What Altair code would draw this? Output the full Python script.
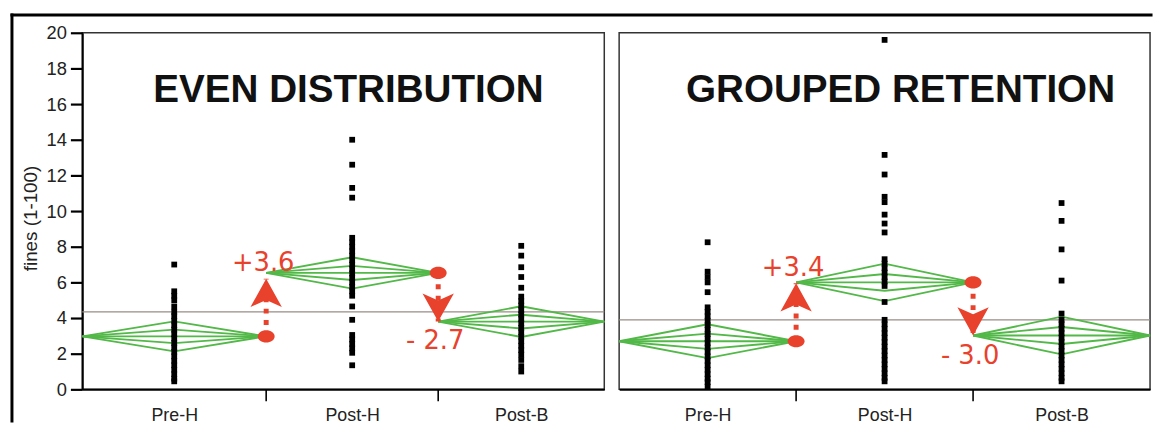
import altair as alt
import pandas as pd

# ---------------- data ----------------
groups = ["Pre-H", "Post-H", "Post-B"]
panel_titles = ["EVEN DISTRIBUTION", "GROUPED RETENTION"]

# JMP draws each group's width proportional to its sample size
even_group_n = [31, 29, 28]
grouped_group_n = [30, 30, 30]

even_pre_h = [7.0, 5.5, 5.25, 5.0, 4.65, 4.35, 4.1, 3.85, 3.6, 3.35, 3.1, 2.85, 2.6,
              2.35, 2.1, 1.85, 1.6, 1.35, 1.1, 0.85, 0.6, 0.45]
even_post_h = [14.0, 12.6, 11.3, 10.75, 8.5, 8.25, 8.0, 7.75, 7.5, 7.25, 7.0, 6.75, 6.5,
               6.25, 6.0, 5.75, 5.5, 5.25, 4.65, 3.9, 3.05, 2.8, 2.55, 2.3, 2.05, 1.35]
even_post_b = [8.05, 7.5, 6.85, 6.3, 5.7, 5.2, 4.95, 4.7, 4.45, 4.2, 3.95, 3.7, 3.45,
               3.2, 2.95, 2.7, 2.45, 2.2, 1.95, 1.65, 1.3, 1.0]

grouped_pre_h = [8.25, 6.6, 6.3, 6.0, 5.45, 4.6, 4.35, 4.1, 3.85, 3.6, 3.35, 3.1, 2.85,
                 2.6, 2.35, 2.1, 1.85, 1.6, 1.35, 1.1, 0.85, 0.6, 0.4, 0.15]
grouped_post_h = [19.6, 13.15, 12.05, 10.8, 10.5, 9.8, 9.3, 8.8, 7.3, 7.05, 6.8, 6.55,
                  6.3, 6.05, 5.8, 4.9, 3.9, 3.65, 3.4, 3.15, 2.9, 2.65, 2.4, 2.15, 1.9,
                  1.65, 1.4, 1.15, 0.9, 0.65, 0.45]
grouped_post_b = [10.45, 9.45, 7.85, 6.1, 4.25, 3.9, 3.65, 3.4, 3.15, 2.9, 2.65, 2.4,
                  2.15, 1.9, 1.65, 1.4, 1.15, 0.9, 0.65, 0.45]

even_means = [2.97, 6.53, 3.8]
even_ci_half = [0.84, 0.88, 0.86]
grouped_means = [2.7, 6.0, 3.02]
grouped_ci_half = [0.95, 1.05, 1.06]
even_grand_mean = 4.35
grouped_grand_mean = 3.9

even_change_labels = ["+3.6", "- 2.7"]
grouped_change_labels = ["+3.4", "- 3.0"]
even_arrow_tips = [6.2, 3.8]
grouped_arrow_tips = [5.95, 3.02]
even_label_y = [7.1, 2.68]
grouped_label_y = [6.78, 1.85]
title_x_frac = [0.51, 0.53]
title_y = 16.8

# ---------------- styling ----------------
RED = "#E8412C"
GREEN = "#52B848"
H = 360
UP_HEAD = "M0,0L1,1.8L0,1.35L-1,1.8Z"
DOWN_HEAD = "M0,0L1,-1.8L0,-1.35L-1,-1.8Z"
ELLIPSE = "M-1,0A1,0.72 0 1,0 1,0A1,0.72 0 1,0 -1,0Z"


def panel(title, group_n, columns, means, halves, grand_mean, labels, tips,
          label_y, title_frac, width, first):
    total = sum(group_n)
    starts, ends = [], []
    acc = 0
    for n in group_n:
        starts.append(acc)
        acc += n
        ends.append(acc)
    centers = [(s + e) / 2 for s, e in zip(starts, ends)]

    xscale = alt.Scale(domain=[0, total], nice=False, zero=False)
    yscale = alt.Scale(domain=[0, 20], nice=False)
    label_expr = (f"datum.value < {ends[0]} ? '{groups[0]}' : "
                  f"datum.value < {ends[1]} ? '{groups[1]}' : '{groups[2]}'")
    xaxis = alt.Axis(values=centers, labelExpr=label_expr, tickSize=0, labelPadding=17,
                     labelFontSize=18, labelColor="#222", labelFont="Liberation Sans",
                     domainColor="black", domainWidth=2, grid=False, title=None,
                     labelAngle=0)
    if first:
        yaxis = alt.Axis(values=list(range(0, 21, 2)), tickSize=12, tickWidth=2.2,
                         tickColor="black", domainColor="black", domainWidth=2,
                         labelFontSize=18.5, labelFont="Liberation Sans", labelColor="#222",
                         labelPadding=4, title="fines (1-100)", titleFontSize=19,
                         titleFont="Liberation Sans", titleFontWeight="normal",
                         titleColor="#222", titlePadding=6, titleY=187,
                         titleAnchor="middle", grid=False)
    else:
        yaxis = None

    def X(f):
        return alt.X(f, scale=xscale, axis=xaxis)

    def Y(f):
        return alt.Y(f, scale=yscale, axis=yaxis)

    # points
    pts = pd.DataFrame({
        "x": sum([[c] * len(col) for c, col in zip(centers, columns)], []),
        "y": sum([list(col) for col in columns], []),
    })

    # means diamonds
    rows = []
    for i in range(3):
        s, e, c, m, h = starts[i], ends[i], centers[i], means[i], halves[i]
        for name, k in (("outer", 1.0), ("inner", 0.45)):
            for o, (xx, yy) in enumerate([(s, m), (c, m + k * h), (e, m), (c, m - k * h), (s, m)]):
                rows.append({"series": f"{i}-{name}", "order": o, "x": xx, "y": yy})
        rows.append({"series": f"{i}-mean", "order": 0, "x": s, "y": m})
        rows.append({"series": f"{i}-mean", "order": 1, "x": e, "y": m})
    dia = pd.DataFrame(rows)

    mean_df = pd.DataFrame({"y": [grand_mean]})
    bnd = pd.DataFrame({"x": ends[:2]})
    arrows = pd.DataFrame({
        "x": ends[:2],
        "y": means[:2],
        "y_to": tips,
        "dir": ["up" if tips[k] > means[k] else "down" for k in range(2)],
        "label": labels,
        "label_y": label_y,
    })
    title_df = pd.DataFrame({"x": [title_frac * total], "y": [title_y], "t": [title]})

    layers = []
    if first:
        one = pd.DataFrame({"k": [0]})
        layers.append(alt.Chart(one).mark_rule(color="black", strokeWidth=3, strokeCap="square")
                      .encode(x=alt.value(-71), x2=alt.value(1079), y=alt.value(-18)))
        layers.append(alt.Chart(one).mark_rule(color="black", strokeWidth=3, strokeCap="square")
                      .encode(x=alt.value(-71), y=alt.value(-18), y2=alt.value(392)))

    layers.append(alt.Chart(mean_df).mark_rule(color="#9a8d86", strokeWidth=1.3)
                  .encode(y=Y("y:Q")))
    layers.append(alt.Chart(dia).mark_line(color=GREEN, strokeWidth=1.9)
                  .encode(x=X("x:Q"), y=Y("y:Q"), detail="series:N", order="order:Q"))
    layers.append(alt.Chart(pts).mark_point(shape="square", filled=True, size=34,
                                            color="black", opacity=1)
                  .encode(x=X("x:Q"), y=Y("y:Q")))
    layers.append(alt.Chart(bnd).mark_rule(color="black", strokeWidth=1.6)
                  .encode(x=X("x:Q"), y=alt.value(H), y2=alt.value(H + 12)))
    layers.append(alt.Chart(arrows).mark_rule(color=RED, strokeWidth=5, strokeDash=[5, 6.5])
                  .encode(x=X("x:Q"), y=Y("y:Q"), y2="y_to:Q"))
    layers.append(alt.Chart(arrows).mark_point(shape=ELLIPSE, filled=True, size=290,
                                               color=RED, opacity=1)
                  .encode(x=X("x:Q"), y=Y("y:Q")))
    layers.append(alt.Chart(arrows).mark_point(filled=True, size=1000, color=RED, opacity=1)
                  .encode(x=X("x:Q"), y=Y("y_to:Q"),
                          shape=alt.Shape("dir:N", scale=alt.Scale(domain=["up", "down"],
                                                                   range=[UP_HEAD, DOWN_HEAD]),
                                          legend=None)))
    layers.append(alt.Chart(arrows).mark_text(font="DejaVu Sans", fontSize=26, color=RED,
                                              align="center", baseline="middle", dx=-3)
                  .encode(x=X("x:Q"), y=Y("label_y:Q"), text="label:N"))
    layers.append(alt.Chart(title_df).mark_text(font="Liberation Sans", fontSize=39,
                                                fontWeight="bold", color="#111",
                                                align="center", baseline="middle")
                  .encode(x=X("x:Q"), y=Y("y:Q"), text="t:N"))

    return alt.layer(*layers).properties(width=width, height=H)


left = panel(panel_titles[0], even_group_n, [even_pre_h, even_post_h, even_post_b],
             even_means, even_ci_half, even_grand_mean, even_change_labels,
             even_arrow_tips, even_label_y, title_x_frac[0], 527, True)
right = panel(panel_titles[1], grouped_group_n, [grouped_pre_h, grouped_post_h, grouped_post_b],
              grouped_means, grouped_ci_half, grouped_grand_mean, grouped_change_labels,
              grouped_arrow_tips, grouped_label_y, title_x_frac[1], 536, False)

chart = (alt.hconcat(left, right, spacing=15, bounds="flush")
         .properties(padding={"left": 1, "top": 2, "right": 0, "bottom": 0},
                     background="white")
         .configure_view(stroke="#333333", strokeWidth=1.5))

chart.save("out.html", embed_options={"renderer": "svg", "actions": False})
